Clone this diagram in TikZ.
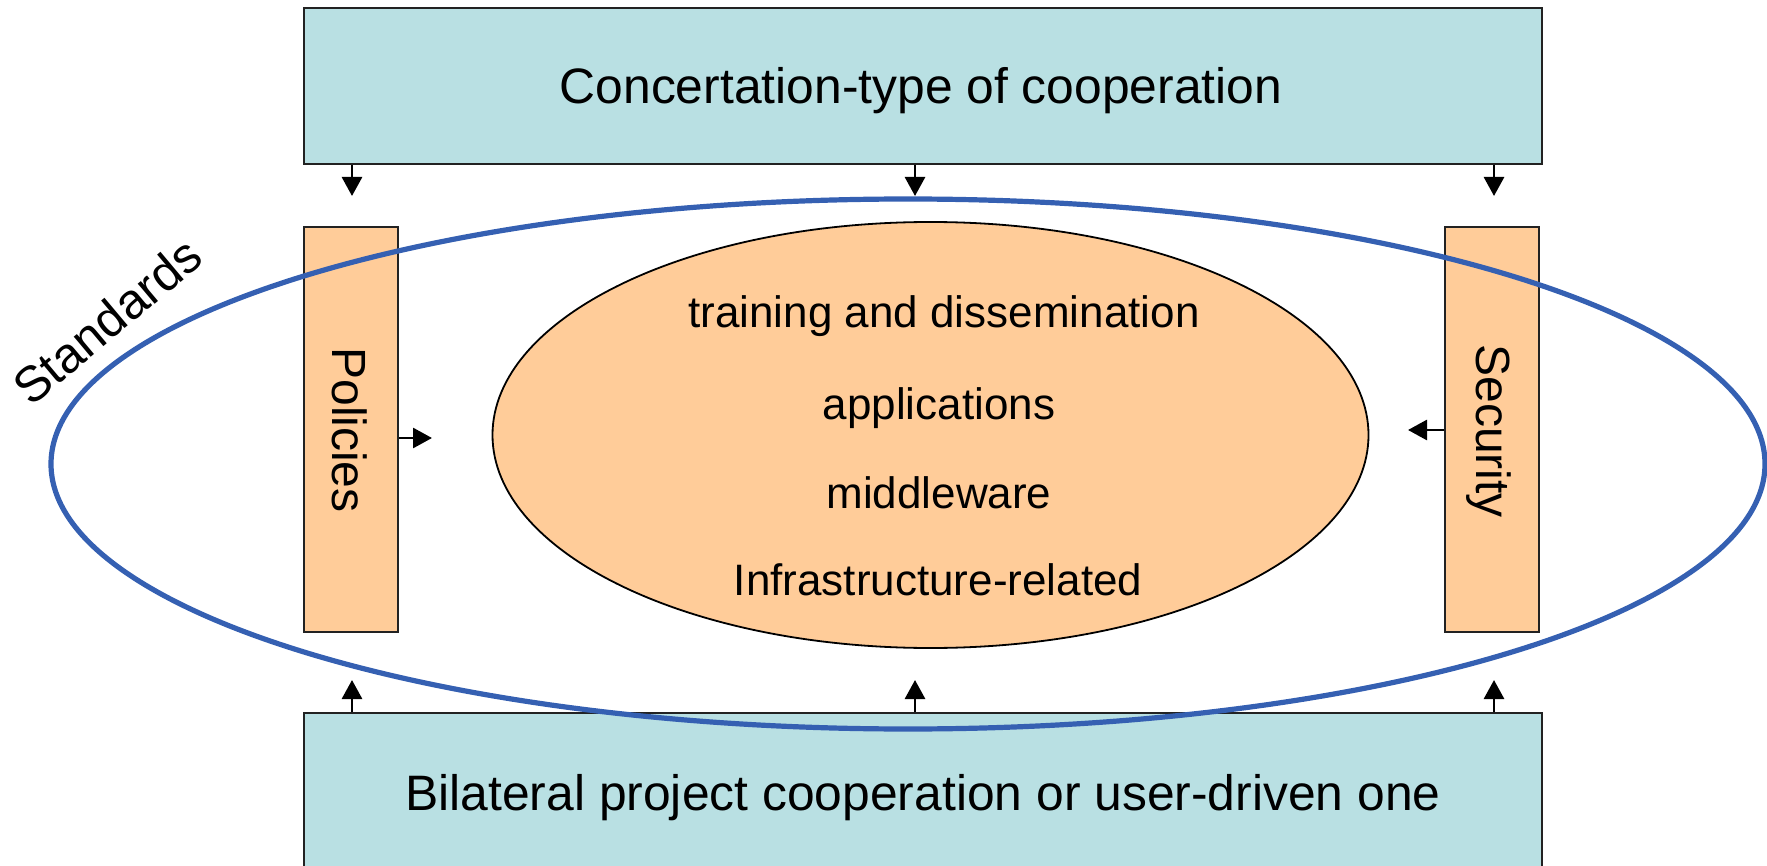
\documentclass[tikz,border=0pt]{standalone}
\usepackage{fontspec}
\setmainfont{Liberation Sans}
\usetikzlibrary{shapes.geometric,arrows.meta}
\definecolor{boxblue}{HTML}{B9E0E3}
\definecolor{boxorange}{HTML}{FFCC99}
\definecolor{stdblue}{HTML}{3560B2}
\definecolor{edge}{HTML}{222222}
\tikzset{
  bluebox/.style={draw=edge, line width=0.9pt, fill=boxblue, rectangle, inner sep=0pt},
  orangebox/.style={draw=edge, line width=0.9pt, fill=boxorange, rectangle, inner sep=0pt},
  coreoval/.style={draw=black, line width=0.9pt, fill=boxorange, ellipse, inner sep=0pt},
  stdoval/.style={draw=stdblue, line width=2.6pt, ellipse, inner sep=0pt},
  arr/.style={line width=1.4pt, -{Triangle[width=10pt,length=9.5pt]}},
  bigtext/.style={font=\fontsize{24.9}{29}\selectfont, inner sep=0pt},
  midtext/.style={font=\fontsize{22}{26}\selectfont, inner sep=0pt, anchor=base},
  sidetext/.style={font=\fontsize{24}{29}\selectfont, inner sep=0pt, rotate=-90}
}
\begin{document}
\begin{tikzpicture}[x=0.5pt,y=-0.5pt]
\useasboundingbox (0,0) rectangle (1767,866);
% boxes
\node[bluebox, minimum width=619pt, minimum height=78pt] (top) at (923,86) {};
\node[bigtext, anchor=base] (toptext) at (921,104) {Concertation-type of cooperation};
\node[bluebox, minimum width=619pt, minimum height=83.5pt] (bottom) at (923,796.5) {};
\node[bigtext, anchor=base] (bottomtext) at (923,810) {Bilateral project cooperation or user-driven one};
\node[orangebox, minimum width=47pt, minimum height=202.5pt] (pol) at (351,429.5) {};
\node[sidetext] (poltext) at (350,430) {Policies};
\node[orangebox, minimum width=47pt, minimum height=202.5pt] (sec) at (1492,429.5) {};
\node[sidetext] (sectext) at (1489,431) {Security};
% core ellipse
\node[coreoval, minimum width=438pt, minimum height=213pt] (core) at (930.5,435) {};
\node[midtext] (l1) at (944,328) {training and dissemination};
\node[midtext] (l2) at (939,419) {applications};
\node[midtext] (l3) at (939,508) {middleware};
\node[midtext] (l4) at (938,595) {Infrastructure-related};
% arrow end points
\coordinate (t1) at (352,196);
\coordinate (t2) at (915,196);
\coordinate (t3) at (1494,196);
\coordinate (b1) at (352,680);
\coordinate (b2) at (915,680);
\coordinate (b3) at (1494,680);
\coordinate (pe) at (432,438);
\coordinate (se) at (1408,430);
\draw[arr] (top.south -| t1) -- (t1);
\draw[arr] (top.south -| t2) -- (t2);
\draw[arr] (top.south -| t3) -- (t3);
\draw[arr] (bottom.north -| b1) -- (b1);
\draw[arr] (bottom.north -| b2) -- (b2);
\draw[arr] (bottom.north -| b3) -- (b3);
\draw[arr] (pol.east |- pe) -- (pe);
\draw[arr] (sec.west |- se) -- (se);
% standards ellipse
\node[stdoval, minimum width=857pt, minimum height=265pt] (std) at (908,464) {};
\node[bigtext, rotate=40] (stdtext) at (107,321) {Standards};
\end{tikzpicture}
\end{document}
